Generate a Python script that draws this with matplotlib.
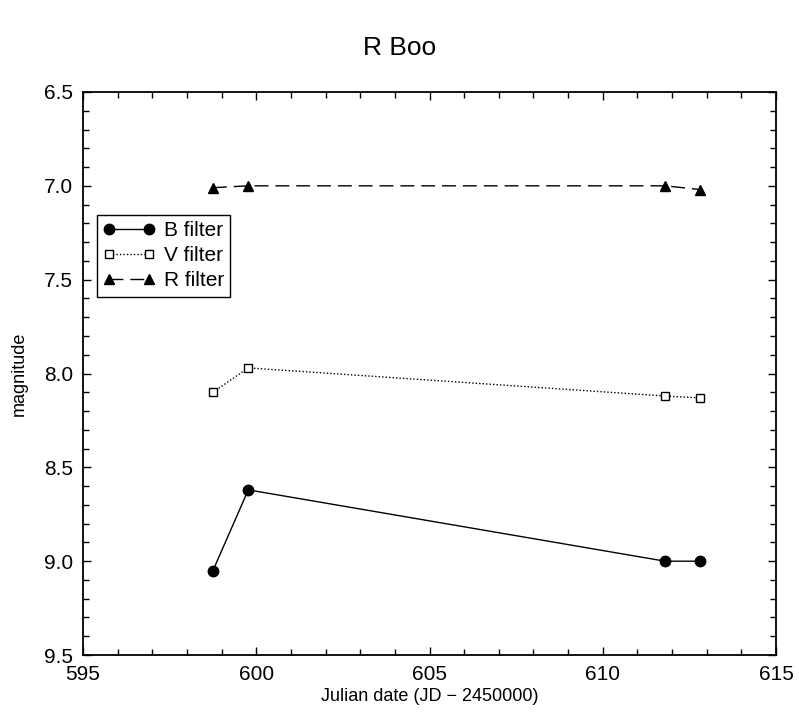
import matplotlib
matplotlib.use("Agg")
import matplotlib.pyplot as plt
from matplotlib.ticker import MultipleLocator

plt.rcParams["font.family"] = ["Liberation Sans", "DejaVu Sans"]

jd = [598.75, 599.77, 611.80, 612.81]
b_mag = [9.05, 8.62, 9.00, 9.00]
v_mag = [8.10, 7.97, 8.12, 8.13]
r_mag = [7.01, 7.00, 7.00, 7.02]

fig = plt.figure(figsize=(7.99, 7.13), dpi=100)
ax = fig.add_axes([0.1039, 0.0813, 0.8673, 0.7897])

ax.plot(jd, b_mag, color="black", lw=1, ls="-", marker="o", ms=7.5, label="B filter")
ax.plot(jd, v_mag, color="black", lw=1, ls=(0, (1, 1.5)), marker="s", ms=5.5,
        mfc="white", mew=1, label="V filter")
ax.plot(jd, r_mag, color="black", lw=1, ls=(0, (10, 5)), marker="^", ms=7.5,
        label="R filter")

ax.set_xlim(595, 615)
ax.set_ylim(9.5, 6.5)
ax.xaxis.set_major_locator(MultipleLocator(5))
ax.xaxis.set_minor_locator(MultipleLocator(1))
ax.yaxis.set_major_locator(MultipleLocator(0.5))
ax.yaxis.set_minor_locator(MultipleLocator(0.1))
ax.yaxis.set_major_formatter(matplotlib.ticker.FormatStrFormatter("%.1f"))
ax.tick_params(which="both", direction="in", top=True, right=True, labelsize=15, pad=7)
ax.tick_params(which="major", length=6, width=1)
ax.tick_params(which="minor", length=4, width=1)
for s in ax.spines.values():
    s.set_linewidth(1.3)

ax.set_xlabel("Julian date (JD \u2212 2450000)", fontsize=13, labelpad=3)
ax.set_ylabel("magnitude", fontsize=13, labelpad=12)
fig.suptitle("R Boo", fontsize=19, y=0.95)

leg = ax.legend(loc="upper left", bbox_to_anchor=(0.02, 0.782), fontsize=15,
                frameon=True, fancybox=False, edgecolor="black", framealpha=1,
                numpoints=2, handlelength=2.5, borderpad=0.3, labelspacing=0.3,
                handletextpad=0.4, borderaxespad=0)
leg.get_frame().set_linewidth(1)

fig.savefig("out.png", dpi=100)
